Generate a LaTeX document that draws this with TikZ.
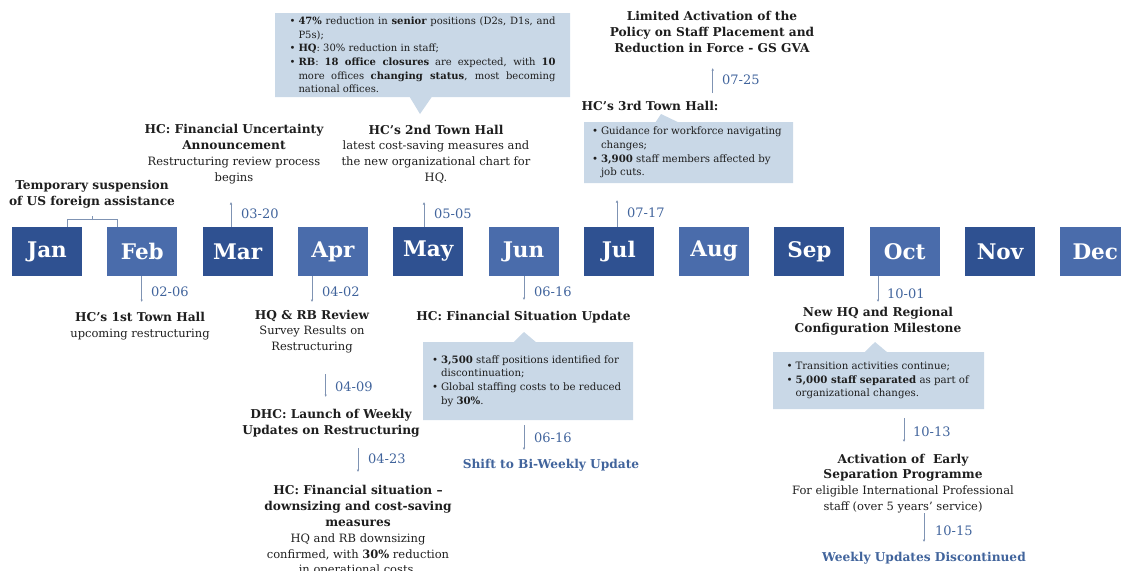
\documentclass[tikz,border=0pt]{standalone}
\usepackage{fontspec}
\setmainfont{DejaVu Serif}
\usetikzlibrary{arrows.meta,positioning,calc,shapes.callouts}

\definecolor{mondark}{HTML}{2F5191}
\definecolor{monlight}{HTML}{4A6CAB}
\definecolor{dateblue}{HTML}{41649C}
\definecolor{tickblue}{HTML}{7F93B3}
\definecolor{notefill}{HTML}{C9D8E7}
\definecolor{txtgray}{HTML}{1E1E1E}

% bullet item with hanging indent
\newcommand{\blt}[1]{\par\hangindent=9pt\hangafter=1\noindent\makebox[9pt][l]{\textbullet}#1}
% bold heading line inside an event node
\newcommand{\hd}[1]{{\fontsize{12.2}{15.8}\selectfont\bfseries #1}}

\begin{document}
\begin{tikzpicture}[
    x=1pt, y=-1pt,
    month/.style={minimum width=70pt, minimum height=49pt, inner sep=0pt, text=white, font=\fontsize{21.5}{24}\selectfont\bfseries},
    event/.style={align=center, inner sep=0pt, text=txtgray, font=\fontsize{11.5}{15.8}\selectfont},
    eventblue/.style={inner sep=0pt, text=dateblue, font=\fontsize{12.2}{15.8}\selectfont\bfseries},
    datelbl/.style={anchor=west, inner sep=0pt, text=dateblue, font=\fontsize{13}{14}\selectfont},
    tick/.style={draw=tickblue, line width=0.7pt, -{Latex[length=2.5pt,width=2.5pt]}},
    bracket/.style={draw=tickblue, line width=1pt},
    note/.style={rectangle callout, fill=notefill, inner sep=0pt, text=txtgray, font=\fontsize{10.2}{13.6}\selectfont, callout pointer width=22pt}
]
    \useasboundingbox (0,0) rectangle (1121,570);

    % Month boxes along the timeline
    \foreach \m/\col [count=\i from 0] in {Jan/mondark, Feb/monlight, Mar/mondark, Apr/monlight, May/mondark, Jun/monlight,
                                           Jul/mondark, Aug/monlight, Sep/mondark, Oct/monlight, Nov/mondark, Dec/monlight} {
        \node[month, fill=\col] (\m) at ({47+95.3*\i}, 251.5) {\m};
    }

    % Jan-Feb bracket
    \node[event] (susp) at (92,194) {\hd{Temporary suspension}\\\hd{of US foreign assistance}};
    \draw[bracket] ([xshift=-15pt]Jan.north east) -- ++(0,-7) -| ([xshift=10pt]Feb.north west);
    \coordinate (brkmid) at (92,220);
    \draw[bracket] (brkmid) -- ++(0,-4);

    % Events above the months
    \coordinate (t0320) at (231,202);
    \draw[tick] (t0320 |- Mar.north) -- (t0320);
    \node[datelbl] (l0320) at (241,214) {03-20};
    \node[event] (uncert) at (234,154) {\hd{HC: Financial Uncertainty}\\\hd{Announcement}\\Restructuring review process\\begins};

    \coordinate (t0505) at (424,202);
    \draw[tick] (t0505 |- May.north) -- (t0505);
    \node[datelbl] (l0505) at (434,214) {05-05};
    \node[event] (town2) at (436,154) {\hd{HC's 2nd Town Hall}\\latest cost-saving measures and\\the new organizational chart for\\HQ.};
    \node[note, minimum width=295pt, minimum height=84pt, callout absolute pointer={(420,114)}] (cuts) at (422.5,55) {%
        \begin{minipage}{266pt}\fontsize{10}{13.6}\selectfont\hyphenpenalty=10000
        \blt{\textbf{47\%} reduction in \textbf{senior} positions (D2s, D1s, and P5s);}
        \blt{\textbf{HQ}: 30\% reduction in staff;}
        \blt{\textbf{RB}: \textbf{18 office closures} are expected, with \textbf{10} more offices \textbf{changing status}, most becoming national offices.}
        \end{minipage}};

    \coordinate (t0717) at (617,200);
    \draw[tick] (t0717 |- Jul.north) -- (t0717);
    \node[datelbl] (l0717) at (627,213) {07-17};
    \node[note, minimum width=209pt, minimum height=61pt, callout absolute pointer={(661,114)}] (guide) at (688.5,152.5) {%
        \begin{minipage}{193pt}\raggedright
        \blt{Guidance for workforce navigating\newline changes;}
        \blt{\textbf{3,900} staff members affected by\newline job cuts.}
        \end{minipage}};
    \node[event] (town3) at (650,106) {\hd{HC's 3rd Town Hall:}};

    \coordinate (s0725) at (712.7,93);
    \coordinate (t0725) at (712.7,68);
    \draw[tick] (s0725) -- (t0725);
    \node[datelbl] (l0725) at (722,80) {07-25};
    \node[event] (limited) at (712,32) {\hd{Limited Activation of the}\\\hd{Policy on Staff Placement and}\\\hd{Reduction in Force - GS GVA}};

    % Events below the months
    \coordinate (t0206) at (141.7,302);
    \draw[tick] (t0206 |- Feb.south) -- (t0206);
    \node[datelbl] (l0206) at (151,292) {02-06};
    \node[event] (town1) at (140,326.5) {\hd{HC's 1st Town Hall}\\upcoming restructuring};

    \coordinate (t0402) at (312,302);
    \draw[tick] (t0402 |- Apr.south) -- (t0402);
    \node[datelbl] (l0402) at (322,292) {04-02};
    \node[event] (review) at (312,331.5) {\hd{HQ \& RB Review}\\Survey Results on\\Restructuring};

    \coordinate (s0409) at (325.7,374);
    \coordinate (t0409) at (325.7,397);
    \draw[tick] (s0409) -- (t0409);
    \node[datelbl] (l0409) at (335,387) {04-09};
    \node[event] (weekly) at (331,423.5) {\hd{DHC: Launch of Weekly}\\\hd{Updates on Restructuring}};

    \coordinate (s0423) at (358,448);
    \coordinate (t0423) at (358,472);
    \draw[tick] (s0423) -- (t0423);
    \node[datelbl] (l0423) at (368,459) {04-23};
    \node[event] (finsit) at (358,531) {\hd{HC: Financial situation --}\\\hd{downsizing and cost-saving}\\\hd{measures}\\HQ and RB downsizing\\confirmed, with \textbf{30\%} reduction\\in operational costs.};

    \coordinate (t0616) at (524,300);
    \draw[tick] (t0616 |- Jun.south) -- (t0616);
    \node[datelbl] (l0616) at (534,292) {06-16};
    \node[event] (finupd) at (523.5,317) {\hd{HC: Financial Situation Update}};
    \node[note, minimum width=210pt, minimum height=78pt, callout absolute pointer={(524,332)}] (staff) at (528,381) {%
        \begin{minipage}{192pt}\raggedright
        \blt{\textbf{3,500} staff positions identified for\newline discontinuation;}
        \blt{Global staffing costs to be reduced\newline by \textbf{30\%}.}
        \end{minipage}};

    \coordinate (t0616b) at (524,450);
    \draw[tick] ($(t0616b |- staff.south)+(0,5)$) -- (t0616b);
    \node[datelbl] (l0616b) at (534,438) {06-16};
    \node[eventblue] (biweek) at (551,465) {Shift to Bi-Weekly Update};

    \coordinate (t1001) at (878,302);
    \draw[tick] (t1001 |- Oct.south) -- (t1001);
    \node[datelbl] (l1001) at (887,294) {10-01};
    \node[event] (newhq) at (878,321) {\hd{New HQ and Regional}\\\hd{Configuration Milestone}};
    \node[note, minimum width=211pt, minimum height=57pt, callout absolute pointer={(875,342)}] (sep) at (878.5,380.5) {%
        \begin{minipage}{184pt}\raggedright
        \blt{Transition activities continue;}
        \blt{\textbf{5,000 staff separated} as part of\newline organizational changes.}
        \end{minipage}};

    \coordinate (t1013) at (904,442);
    \draw[tick] ($(t1013 |- sep.south)+(0,9)$) -- (t1013);
    \node[datelbl] (l1013) at (913,432) {10-13};
    \node[event] (early) at (903,483.5) {\hd{Activation of\ \ Early}\\\hd{Separation Programme}\\For eligible International Professional\\staff (over 5 years' service)};

    \coordinate (s1015) at (924,513);
    \coordinate (t1015) at (924,542);
    \draw[tick] (s1015) -- (t1015);
    \node[datelbl] (l1015) at (935,531) {10-15};
    \node[eventblue] (discont) at (924,558) {Weekly Updates Discontinued};

\end{tikzpicture}
\end{document}
